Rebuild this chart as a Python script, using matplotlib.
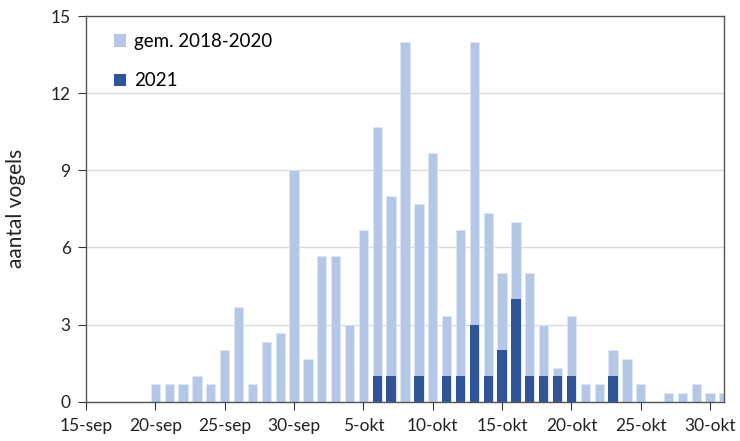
import matplotlib.pyplot as plt
from matplotlib.patches import Patch
import numpy as np

# dagen vanaf 15-sep t/m 31-okt
days = np.arange(47)
tick_days = [0, 5, 10, 15, 20, 25, 30, 35, 40, 45]
tick_labels = ['15-sep', '20-sep', '25-sep', '30-sep', '5-okt',
               '10-okt', '15-okt', '20-okt', '25-okt', '30-okt']

# gemiddelde 2018-2020
gem = [0, 0, 0, 0, 0,
       0.67, 0.67, 0.67, 1.0, 0.67,
       2.0, 3.67, 0.67, 2.33, 2.67,
       9.0, 1.67, 5.67, 5.67, 3.0,
       6.67, 10.67, 8.0, 14.0, 7.67,
       9.67, 3.33, 6.67, 14.0, 7.33,
       5.0, 7.0, 5.0, 3.0, 1.33,
       3.33, 0.67, 0.67, 2.0, 1.67,
       0.67, 0, 0.33, 0.33, 0.67,
       0.33, 0.33]

# 2021
y2021 = [0, 0, 0, 0, 0,
         0, 0, 0, 0, 0,
         0, 0, 0, 0, 0,
         0, 0, 0, 0, 0,
         0, 1, 1, 0, 1,
         0, 1, 1, 3, 1,
         2, 4, 1, 1, 1,
         1, 0, 0, 1, 0,
         0, 0, 0, 0, 0,
         0, 0]

light = '#B4C7E7'
dark = '#2F5597'

plt.rcParams['font.family'] = ['Lato', 'DejaVu Sans']

fig = plt.figure(figsize=(7.4, 4.41), dpi=100)
ax = fig.add_axes([0.1162, 0.0891, 0.8622, 0.8746])

ax.bar(days, gem, width=0.67, color=light, edgecolor='#DCE6F4', linewidth=0.6, zorder=2)
ax.bar(days, y2021, width=0.67, color=dark, zorder=3)

ax.set_xlim(0, 46)
ax.set_ylim(0, 15)
ax.set_yticks([0, 3, 6, 9, 12, 15])
ax.set_xticks(tick_days)
ax.set_xticklabels(tick_labels)
ax.tick_params(axis='both', labelsize=12.5, colors='#222222', length=6,
               direction='out', color='#333333')
ax.tick_params(axis='y', pad=5)
ax.tick_params(axis='x', pad=6)
ax.grid(axis='y', color='#D9D9D9', linewidth=1, zorder=0)
ax.set_axisbelow(True)
for s in ax.spines.values():
    s.set_color('#555555')
    s.set_linewidth(1)
ax.set_ylabel('aantal vogels', fontsize=15, color='#222222', labelpad=18)

handles = [Patch(facecolor=light, label='gem. 2018-2020'),
           Patch(facecolor=dark, label='2021')]
ax.legend(handles=handles, loc='upper left', bbox_to_anchor=(0.017, 1.0),
          frameon=False, fontsize=13.5, labelspacing=1.2,
          handlelength=0.65, handleheight=0.65, handletextpad=0.45)

fig.savefig('out.png', dpi=100)
